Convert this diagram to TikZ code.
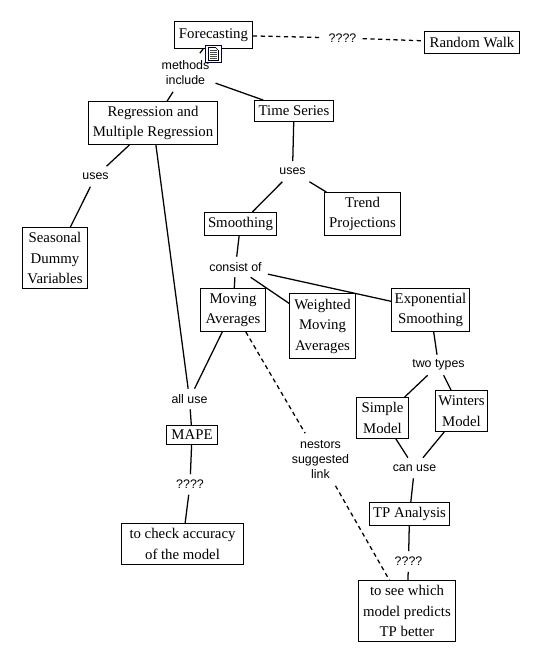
\documentclass[tikz,border=0pt]{standalone}
\usepackage{fontspec}
\setmainfont{Liberation Serif}
\newfontfamily\lblfont{Liberation Sans}
\begin{document}
\begin{tikzpicture}[x=0.75pt,y=-0.75pt,
  box/.style 2 args={draw=black,line width=0.65pt,inner sep=0pt,align=center,minimum width=#1*0.75pt,minimum height=#2*0.75pt,font=\fontsize{11.1}{15.4}\selectfont},
  lbl/.style={inner xsep=4.5pt,inner ysep=0pt,align=center,font=\lblfont\fontsize{9.3}{11.25}\selectfont},
  lone/.style={lbl,minimum height=15pt},
  ltwo/.style={lbl,minimum height=28.5pt},
  lthree/.style={lbl,minimum height=39pt},
  conn/.style={line width=0.95pt,black},
  dconn/.style={line width=0.95pt,black,dash pattern=on 3.2pt off 2.6pt}]
\useasboundingbox (0,0) rectangle (542,663);
\fill[white] (0,0) rectangle (542,663);
\begin{scope}[shift={(0.5,0.5)}]
\node (forecasting) [box={78}{27}] at (213,34.5) {Forecasting};
\node (walk) [box={95}{22}] at (471.5,42) {Random Walk};
\node (regression) [box={129}{43}] at (152.5,122.5) {Regression and\\Multiple Regression};
\node (timeseries) [box={79}{21}] at (293.5,110.5) {Time Series};
\node (seasonal) [box={65}{61}] at (54.5,257.5) {Seasonal\\Dummy\\Variables};
\node (smoothing) [box={72}{23}] at (240,223.5) {Smoothing};
\node (trend) [box={76}{43}] at (362,213.5) {Trend\\Projections};
\node (moving) [box={65}{43}] at (232.5,309.5) {Moving\\Averages};
\node (weighted) [box={66}{65}] at (322,325.5) {Weighted\\Moving\\Averages};
\node (exponential) [box={78}{43}] at (430,309.5) {Exponential\\Smoothing};
\node (simple) [box={52}{41}] at (382,417.5) {Simple\\Model};
\node (winters) [box={52}{41}] at (461,410.5) {Winters\\Model};
\node (mape) [box={51}{19}] at (191.5,434.5) {MAPE};
\node (check) [box={122}{41}] at (182,543.5) {to check accuracy\\of the model};
\node (tp) [box={80}{23}] at (409,513.5) {TP Analysis};
\node (see) [box={97}{61}] at (406.5,610.5) {to see which\\model predicts\\TP better};
% icon drawing
\draw[fill=white,draw=black!70!blue,line width=0.7pt] (205,45) rectangle (221,62);
\draw[fill=white,draw=black,line width=0.5pt] (208,47) -- (215,47) -- (218,50) -- (218,60) -- (208,60) -- cycle;
\foreach \yy in {50,52,54,56,58}{\draw[black!70,line width=0.5pt] (209.5,\yy) -- (216.5,\yy);}
% linking labels
\node (q1) [lone] at (342,37.5) {????};
\node (methods) [ltwo] at (185,72) {methods\\include};
\node (uses1) [lone] at (95,176) {uses};
\node (uses2) [lone] at (292,171) {uses};
\node (consist) [lone] at (235,266.5) {consist of};
\node (twotypes) [lone] at (438,364.5) {two types};
\node (alluse) [lone] at (189,398.5) {all use};
\node (q2) [lone] at (189.5,484) {????};
\node (canuse) [lone] at (414,467.5) {can use};
\node (q3) [lone] at (408,561) {????};
\node (nestors) [lthree] at (320,459) {nestors\\suggested\\link};
\end{scope}
% connectors
\draw[dconn] (forecasting) -- (q1);
\draw[dconn] (q1) -- (walk);
\draw[conn] (forecasting) -- (methods);
\draw[conn] (methods) -- (regression);
\draw[conn] (methods) -- (timeseries);
\draw[conn] (regression) -- (uses1);
\draw[conn] (uses1) -- (seasonal);
\draw[conn] (timeseries) -- (uses2);
\draw[conn] (uses2) -- (smoothing);
\draw[conn] (uses2) -- (trend);
\draw[conn] (smoothing) -- (consist);
\draw[conn] (consist) -- (moving);
\draw[conn] (consist) -- (weighted);
\draw[conn] (consist) -- (exponential);
\draw[conn] (exponential) -- (twotypes);
\draw[conn] (twotypes) -- (simple);
\draw[conn] (twotypes) -- (winters);
\draw[conn] (simple) -- (canuse);
\draw[conn] (winters) -- (canuse);
\draw[conn] (canuse) -- (tp);
\draw[conn] (tp) -- (q3);
\draw[conn] (q3) -- (see);
\draw[conn] (regression) -- (alluse);
\draw[conn] (moving) -- (alluse);
\draw[conn] (alluse) -- (mape);
\draw[conn] (mape) -- (q2);
\draw[conn] (q2) -- (check);
\draw[dconn] (moving) -- (nestors);
\draw[dconn] (nestors) -- (see);
\end{tikzpicture}
\end{document}
